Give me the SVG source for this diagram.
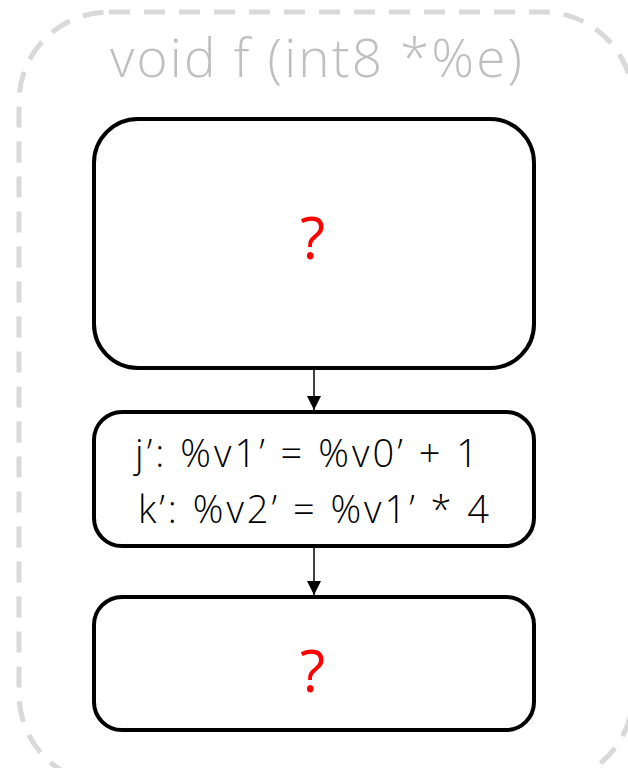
<svg xmlns="http://www.w3.org/2000/svg" width="628" height="768" viewBox="0 0 628 768">
  <defs>
    <marker id="arrow" viewBox="0 0 10 10" refX="10" refY="5" markerWidth="14" markerHeight="14" markerUnits="userSpaceOnUse" orient="auto">
      <path d="M0,0 L10,5 L0,10 z" fill="#000"/>
    </marker>
    <style>
      .frame { fill: none; stroke: #d9d9d9; stroke-width: 5; stroke-dasharray: 21 14; }
      .title { font-family: "Open Sans", "Noto Sans", sans-serif; font-weight: 300; font-size: 53px; fill: #bfbfbf; }
      .block { fill: #fff; stroke: #000; stroke-width: 4; }
      .code { font-family: "Open Sans", "Noto Sans", sans-serif; font-weight: 350; font-size: 38px; fill: #000; }
      .unknown { font-family: "Open Sans", "Noto Sans", sans-serif; font-size: 58px; fill: #ff0000; }
      .edge { stroke: #000; stroke-width: 1.5; fill: none; marker-end: url(#arrow); }
    </style>
  </defs>
  <rect width="628" height="768" fill="#fff"/>

  <!-- function frame -->
  <g id="function">
    <rect class="frame" x="19" y="12" width="614" height="772" rx="90" ry="90"/>
    <text class="title" x="110" y="77" textLength="412" lengthAdjust="spacing">void f (int8 *%e)</text>
  </g>

  <g id="block-entry">
    <rect class="block" x="94" y="119" width="440" height="249" rx="44" ry="44"/>
    <text class="unknown" x="312.5" y="259" text-anchor="middle">?</text>
  </g>

  <g id="block-jk">
    <rect class="block" x="94" y="412" width="440" height="134" rx="28" ry="28"/>
    <text class="code" x="135" y="467" textLength="343" lengthAdjust="spacing">j’: %v1’ = %v0’ + 1</text>
    <text class="code" x="138" y="523" textLength="351" lengthAdjust="spacing">k’: %v2’ = %v1’ * 4</text>
  </g>

  <g id="block-exit">
    <rect class="block" x="94" y="597" width="440" height="133" rx="28" ry="28"/>
    <text class="unknown" x="312.5" y="692" text-anchor="middle">?</text>
  </g>

  <g id="edges">
    <line class="edge" x1="314" y1="370" x2="314" y2="410"/>
    <line class="edge" x1="314" y1="548" x2="314" y2="595"/>
  </g>
</svg>
